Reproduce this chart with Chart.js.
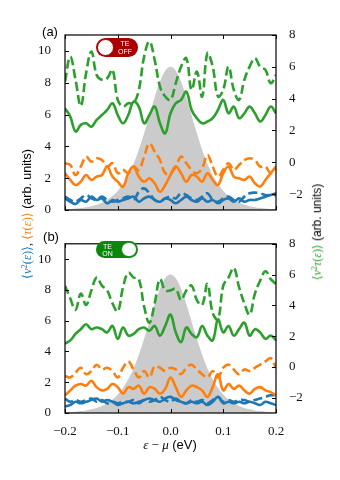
<!DOCTYPE html>
<html><head><meta charset="utf-8">
<script src="https://cdn.jsdelivr.net/npm/chart.js@4.4.1/dist/chart.umd.min.js"></script>
<style>
html,body{margin:0;padding:0;background:#fff;}
#wrap{position:relative;width:340px;height:480px;overflow:hidden;background:#fff;}
canvas{position:absolute;left:0;}
.lbl{position:absolute;white-space:nowrap;font-family:"Liberation Sans",Arial,sans-serif;color:#000;line-height:1;}
.m{font-family:"Liberation Serif","DejaVu Serif",serif;}
.rot{transform:translate(-50%,-50%) rotate(-90deg);}
.ctr{transform:translate(-50%,-50%);}
.sup{font-size:0.68em;position:relative;top:-0.5em;}
.pill{position:absolute;border-radius:10px;}
.knob{position:absolute;border-radius:50%;background:#fff;box-sizing:border-box;}
.ptxt{position:absolute;color:#fff;font-family:"Liberation Sans",Arial,sans-serif;font-size:7px;line-height:7.5px;text-align:center;transform:translate(-50%,-50%);}
</style>
</head><body>
<div id="wrap">
  <canvas id="ca" width="340" height="230" style="top:0;width:340px;height:230px"></canvas>
  <canvas id="cb" width="340" height="250" style="top:230px;width:340px;height:250px"></canvas>

  <div class="lbl ctr" style="left:50px;top:31px;font-size:13px;">(a)</div>
  <div class="lbl ctr" style="left:51px;top:236px;font-size:13px;">(b)</div>

  <div class="pill" style="left:96px;top:37.5px;width:42px;height:19px;background:#a80000;"></div>
  <div class="knob" style="left:97px;top:38.5px;width:17px;height:17px;border:1.5px solid #a80000;"></div>
  <div class="ptxt" style="left:125px;top:47px;">TE<br>OFF</div>

  <div class="pill" style="left:95.5px;top:240.5px;width:42px;height:17.5px;background:#0b870b;"></div>
  <div class="knob" style="left:121px;top:241.5px;width:15.5px;height:15.5px;border:1.5px solid #0b870b;"></div>
  <div class="ptxt" style="left:107.5px;top:249.5px;">TE<br>ON</div>

  <div class="lbl rot" style="left:27px;top:214px;font-size:12.5px;">
    <span class="m" style="color:#1f77b4">⟨<i>v</i><span class="sup">2</span>(<i>ε</i>)⟩</span><span class="m">,&nbsp;</span><span class="m" style="color:#ff7f0e">⟨<i>τ</i>(<i>ε</i>)⟩</span> (arb. units)
  </div>
  <div class="lbl rot" style="left:317px;top:232px;font-size:12px;">
    <span class="m" style="color:#2ca02c">⟨<i>v</i><span class="sup">2</span><i>τ</i>(<i>ε</i>)⟩</span> (arb. units)
  </div>
  <div class="lbl ctr" style="left:170px;top:444px;font-size:13px;">
    <span class="m"><i>ε</i> − <i>μ</i></span> (eV)
  </div>
</div>
<script>
// ---- data ----
const energy = [-0.2,-0.19,-0.18,-0.17,-0.16,-0.15,-0.14,-0.13,-0.12,-0.11,-0.1,-0.09,-0.08,-0.07,-0.06,-0.05,-0.04,-0.03,-0.02,-0.01,0,
  0.01,0.02,0.03,0.04,0.05,0.06,0.07,0.08,0.09,0.1,0.11,0.12,0.13,0.14,0.15,0.16,0.17,0.18,0.19,0.2];
const fermiWindow = [0.046,0.064,0.089,0.124,0.17,0.24,0.33,0.46,0.64,0.88,1.20,1.63,2.19,2.90,3.78,4.82,5.94,7.08,8.07,8.76,9.0,
  8.76,8.07,7.08,5.94,4.82,3.78,2.90,2.19,1.63,1.20,0.88,0.64,0.46,0.33,0.24,0.17,0.124,0.089,0.064,0.046];

// panel (a): TE off
const v2SolidA = [0.73,0.52,0.38,0.63,0.52,0.84,0.63,0.73,0.42,0.63,0.52,0.63,0.73,0.84,0.52,0.73,0.84,0.63,0.52,0.73,0.63,
  0.42,0.63,0.84,0.63,0.52,0.73,0.52,0.63,0.42,0.63,0.73,0.52,0.73,0.52,0.63,0.63,0.73,0.84,0.94,1.05];
const v2DashedA = [0.84,0.63,0.52,0.73,0.94,0.73,0.63,0.84,0.63,0.52,0.63,0.73,0.84,0.63,1.15,1.36,1.05,0.63,0.52,0.73,0.84,
  0.73,1.05,0.94,0.73,0.63,0.84,1.05,0.63,0.52,0.73,0.84,0.63,0.52,0.84,1.05,1.09,1.05,0.94,0.94,0.94];
const tauSolidA = [2.31,1.89,1.57,1.78,2.20,1.89,2.10,2.20,2.73,2.10,1.78,1.47,2.31,2.73,2.10,1.78,1.99,1.68,1.15,1.57,2.20,
  2.73,2.31,1.78,2.20,2.10,1.78,2.31,1.89,1.57,2.31,2.73,2.10,1.99,1.89,2.10,1.68,1.47,1.89,2.31,2.73];
const tauDashedA = [2.94,2.83,2.20,2.73,3.35,3.04,3.25,3.14,2.73,2.94,2.31,2.52,2.31,2.73,2.52,3.35,4.19,3.67,3.14,2.31,2.31,
  2.73,3.35,2.94,2.52,2.31,2.62,3.46,2.73,2.10,2.52,2.94,2.52,2.83,3.14,3.25,3.14,2.73,2.73,2.31,2.62];
const v2tauSolidA = [3.39,2.87,1.93,2.35,2.45,2.24,2.66,2.97,3.29,3.71,2.97,2.45,2.97,3.81,3.5,2.45,2.97,3.5,2.45,1.82,3.08,
  3.71,3.92,4.44,3.29,2.77,2.45,2.56,2.77,3.29,3.92,3.08,3.5,2.77,3.08,3.5,3.08,2.56,2.97,3.5,3.08];
const v2tauDashedA = [5.07,6.64,5.18,3.54,5.6,6.96,5.49,5.18,5.28,5.81,3.92,3.5,3.71,3.71,4.55,6.64,7.59,6.43,4.76,4.13,3.92,
  4.97,6.01,6.54,4.55,5.7,4.13,6.85,6.01,4.13,4.55,6.01,4.55,3.92,5.18,6.01,6.54,6.01,5.81,4.97,5.49];

// panel (b): TE on
const v2SolidB = [0.42,0.52,0.73,0.63,0.73,0.84,0.94,0.73,0.84,0.73,0.52,0.63,0.73,0.63,0.73,0.84,0.94,0.84,0.73,0.94,1.05,
  0.84,0.73,0.63,0.73,0.63,0.73,0.52,0.73,1.05,0.63,0.73,0.63,0.73,0.63,0.73,0.63,0.52,0.73,0.63,0.52];
const v2DashedB = [0.94,0.73,0.84,0.73,0.84,0.94,0.73,0.84,0.63,0.73,0.63,0.73,0.73,0.84,0.63,0.84,0.73,0.84,1.05,0.84,0.73,
  0.94,0.73,0.63,0.84,0.73,0.84,0.63,0.84,1.05,0.73,0.84,0.73,0.84,0.84,0.73,0.84,0.94,1.05,1.15,1.15];
const tauSolidB = [1.15,1.47,1.78,1.89,1.78,2.10,1.68,1.47,1.57,1.89,1.68,1.26,1.68,1.57,1.78,1.26,1.68,1.57,1.26,1.57,2.31,
  1.68,1.05,1.47,1.78,1.68,1.47,1.05,1.68,2.52,1.47,1.89,1.57,1.78,1.47,1.26,1.57,1.68,1.47,1.36,1.15];
const tauDashedB = [2.41,2.31,2.62,2.94,2.52,2.73,3.14,2.83,2.94,2.73,2.31,2.94,3.35,2.83,2.31,2.73,2.31,3.04,2.94,2.73,2.94,
  2.83,2.52,2.94,3.14,2.83,2.52,2.31,2.73,2.31,2.94,3.14,2.83,2.52,2.83,2.73,2.94,3.14,3.35,3.56,2.94];
const v2tauSolidB = [1.51,1.72,2.14,2.45,2.77,2.45,2.56,2.45,2.24,2.66,1.82,2.56,2.03,2.14,2.45,2.56,2.35,2.66,2.03,2.66,3.39,
  2.24,1.61,2.56,2.14,1.93,2.66,2.03,1.72,3.08,2.24,2.66,2.03,2.45,2.87,2.03,2.45,2.24,1.82,2.03,1.72];
const v2tauDashedB = [5.28,4.44,3.71,4.76,4.02,4.97,5.81,5.28,4.97,4.13,3.6,5.18,6.12,5.81,5.7,3.92,2.87,4.13,5.7,4.97,4.97,
  5.07,4.34,4.97,5.28,4.34,4.02,5.39,3.5,3.08,5.28,5.81,6.43,5.18,4.13,3.39,4.76,5.6,6.22,5.7,5.39];

const xTicks = [-0.2,-0.1,0.0,0.1,0.2];
const leftTicks = [0,2,4,6,8,10];
const rightTicks = [-2,0,2,4,6,8];

// ---- styling / helpers ----
const C = {blue:'#1f77b4', orange:'#ff7f0e', green:'#2ca02c', gray:'#cbcbcb'};
const pts = arr => arr.map((y,i)=>({x:energy[i], y}));
const fmt = v => { const s = (Math.abs(v) < 1e-9 ? 0 : v); return (s < 0 ? '\u2212' : '') + Math.abs(s); };
const fmtX = v => (v < -1e-9 ? '\u2212' : '') + Math.abs(v).toFixed(1);
const tickFont = {family:'"Liberation Serif","DejaVu Serif",serif', size:13};

const framePlugin = {
  id:'frame',
  afterDraw(chart){
    const {ctx, chartArea:a, scales} = chart;
    ctx.save();
    ctx.strokeStyle = '#000';
    ctx.lineWidth = 1.2;
    ctx.strokeRect(a.left, a.top, a.right - a.left, a.bottom - a.top);
    ctx.lineWidth = 1;
    ctx.beginPath();
    const L = 4;
    xTicks.forEach(v => {
      const p = Math.round(scales.x.getPixelForValue(v)) + 0.5;
      ctx.moveTo(p, a.bottom); ctx.lineTo(p, a.bottom - L);
      ctx.moveTo(p, a.top); ctx.lineTo(p, a.top + L);
    });
    leftTicks.forEach(v => {
      const p = Math.round(scales.y.getPixelForValue(v)) + 0.5;
      ctx.moveTo(a.left, p); ctx.lineTo(a.left + L, p);
    });
    rightTicks.forEach(v => {
      const p = Math.round(scales.y2.getPixelForValue(v)) + 0.5;
      ctx.moveTo(a.right, p); ctx.lineTo(a.right - L, p);
    });
    ctx.stroke();
    ctx.restore();
  }
};

function line(data, color, dashed, axis){
  return {data: pts(data), borderColor: color, borderWidth: 2.6, borderDash: dashed ? [9,4] : [],
    pointRadius: 0, tension: 0.4, fill: false, yAxisID: axis, order: 1};
}

function makeChart(id, sets, showX, padTop, xHeight){
  const datasets = [
    {data: pts(fermiWindow), borderWidth: 0, borderColor: 'rgba(0,0,0,0)', backgroundColor: C.gray,
     fill: 'origin', pointRadius: 0, cubicInterpolationMode: 'monotone', yAxisID: 'y', order: 10},
    line(sets[5], C.green, true, 'y2'),
    line(sets[4], C.green, false, 'y2'),
    line(sets[3], C.orange, true, 'y'),
    line(sets[2], C.orange, false, 'y'),
    line(sets[1], C.blue, true, 'y'),
    line(sets[0], C.blue, false, 'y'),
  ];
  return new Chart(document.getElementById(id), {
    type: 'line',
    data: {datasets},
    options: {
      responsive: false, animation: false, devicePixelRatio: 1,
      layout: {padding: {top: padTop, left: 0, right: 0, bottom: 0}},
      plugins: {legend: {display: false}, tooltip: {enabled: false}},
      scales: {
        x: {type: 'linear', min: -0.2, max: 0.2,
            grid: {display: false}, border: {display: false},
            afterBuildTicks: s => { s.ticks = xTicks.map(v => ({value: v})); },
            afterFit: s => { s.height = xHeight; },
            ticks: {display: showX, font: tickFont, color: '#111', padding: 3, maxRotation: 0, autoSkip: false,
                    callback: v => fmtX(v)}},
        y: {type: 'linear', position: 'left', min: 0, max: 11,
            grid: {display: false}, border: {display: false},
            afterBuildTicks: s => { s.ticks = leftTicks.map(v => ({value: v})); },
            afterFit: s => { s.width = 65; },
            ticks: {font: tickFont, color: '#111', padding: 6, callback: v => fmt(v)}},
        y2: {type: 'linear', position: 'right', min: -3, max: 8,
            grid: {display: false}, border: {display: false},
            afterBuildTicks: s => { s.ticks = rightTicks.map(v => ({value: v})); },
            afterFit: s => { s.width = 64; },
            ticks: {font: tickFont, color: '#111', padding: 5, callback: v => fmt(v)}}
      }
    },
    plugins: [framePlugin]
  });
}

makeChart('ca', [v2SolidA, v2DashedA, tauSolidA, tauDashedA, v2tauSolidA, v2tauDashedA], false, 35, 20);
makeChart('cb', [v2SolidB, v2DashedB, tauSolidB, tauDashedB, v2tauSolidB, v2tauDashedB], true, 8, 67);
</script>
</body></html>
